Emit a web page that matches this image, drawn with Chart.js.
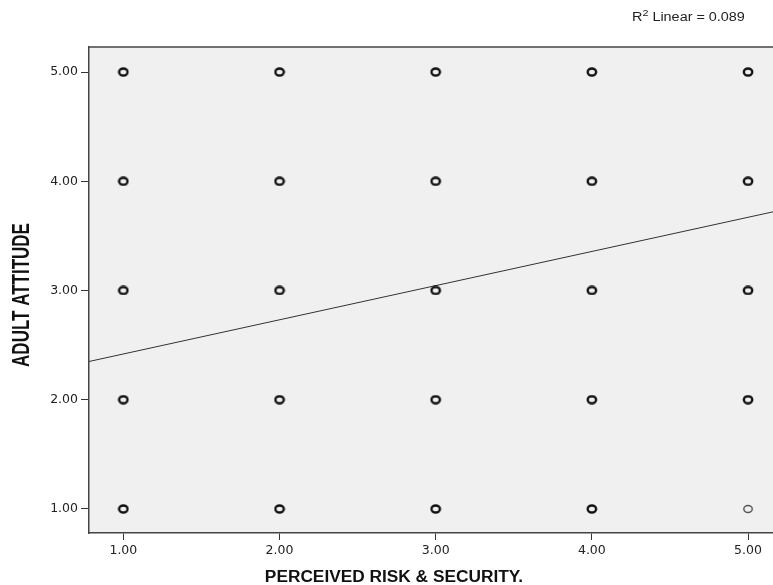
<!DOCTYPE html>
<html lang="en">
<head>
  <meta charset="UTF-8" />
  <title>Adult Attitude vs Perceived Risk</title>
  <script src="https://cdn.jsdelivr.net/npm/chart.js"></script>
  <style>
    body { margin: 0; background: #fff; overflow: hidden; }
    #wrap { width: 773px; height: 585px; }
  </style>
</head>
<body>
  <div id="wrap"><canvas id="scatter"></canvas></div>

  <script>
    // grid of observed answers (1-5 Likert scores on both axes)
    const riskVals = [1, 1, 1, 1, 1, 2, 2, 2, 2, 2, 3, 3, 3, 3, 3, 4, 4, 4, 4, 4, 5, 5, 5, 5];
    const attitudeVals = [1, 2, 3, 4, 5, 1, 2, 3, 4, 5, 1, 2, 3, 4, 5, 1, 2, 3, 4, 5, 2, 3, 4, 5];
    // the single faint point (only one case)
    const singleRisk = [5];
    const singleAttitude = [1];
    // linear fit line, read at the plot edges
    const fitX = [0.78, 5.16];
    const fitY = [2.35, 3.72];
    const tickVals = [1, 2, 3, 4, 5];
    const rSquared = '0.089';
    const xTitle = 'PERCEIVED RISK & SECURITY.';
    const yTitle = 'ADULT ATTITUDE';

    const toPts = (xs, ys) => xs.map((x, i) => ({ x: x, y: ys[i] }));

    // SPSS-like flat "o" marker
    function ring(color, lw) {
      const c = document.createElement('canvas');
      c.width = 12; c.height = 10;
      const g = c.getContext('2d');
      g.strokeStyle = color;
      g.lineWidth = lw;
      g.beginPath();
      g.ellipse(6, 5, 4.2, 3.5, 0, 0, Math.PI * 2);
      g.stroke();
      return c;
    }

    const frame = {
      id: 'frame',
      beforeDraw(chart) {
        const { ctx, chartArea: a } = chart;
        ctx.save();
        ctx.fillStyle = '#f0f0f0';
        ctx.fillRect(a.left, a.top, a.right - a.left, a.bottom - a.top);
        ctx.restore();
      },
      afterDraw(chart) {
        const { ctx, chartArea: a } = chart;
        ctx.save();
        // top frame line
        ctx.strokeStyle = '#444';
        ctx.lineWidth = 1.5;
        ctx.beginPath();
        ctx.moveTo(a.left, a.top);
        ctx.lineTo(a.right, a.top);
        ctx.stroke();

        // R² label
        ctx.fillStyle = '#222';
        ctx.textAlign = 'left';
        ctx.textBaseline = 'alphabetic';
        ctx.save();
        ctx.translate(632, 21);
        ctx.scale(1.2, 1);
        let x = 0;
        ctx.font = '12px "Liberation Sans", Arial, sans-serif';
        ctx.fillText('R', x, 0);
        x += ctx.measureText('R').width;
        ctx.font = '9px "Liberation Sans", Arial, sans-serif';
        ctx.fillText('2', x, -5);
        x += ctx.measureText('2').width;
        ctx.font = '12px "Liberation Sans", Arial, sans-serif';
        ctx.fillText(' Linear = ' + rSquared, x, 0);
        ctx.restore();

        // axis titles
        ctx.fillStyle = '#111';
        ctx.textAlign = 'center';
        ctx.font = 'bold 16px "Liberation Sans", Arial, sans-serif';
        ctx.save();
        ctx.translate(394, 582);
        ctx.scale(1.08, 1);
        ctx.fillText(xTitle, 0, 0);
        ctx.restore();

        ctx.save();
        ctx.translate(29, 295);
        ctx.scale(1.4, 1);
        ctx.rotate(-Math.PI / 2);
        ctx.font = 'bold 17px "Liberation Sans", Arial, sans-serif';
        ctx.fillText(yTitle, 0, 0);
        ctx.restore();
        ctx.restore();
      }
    };

    const tickFont = { family: '"DejaVu Sans", sans-serif', size: 12.5 };

    new Chart(document.getElementById('scatter'), {
      type: 'scatter',
      data: {
        datasets: [
          {
            label: 'Observed',
            data: toPts(riskVals, attitudeVals),
            pointStyle: ring('#111', 2.4),
            pointRadius: 5
          },
          {
            label: 'Single',
            data: toPts(singleRisk, singleAttitude),
            pointStyle: ring('#555', 1.4),
            pointRadius: 5
          },
          {
            type: 'line',
            label: 'Linear fit',
            data: toPts(fitX, fitY),
            borderColor: '#333',
            borderWidth: 1,
            pointRadius: 0,
            fill: false
          }
        ]
      },
      options: {
        responsive: true,
        maintainAspectRatio: false,
        animation: false,
        layout: { autoPadding: false, padding: { top: 47, right: 0, left: 0, bottom: 0 } },
        plugins: { legend: { display: false }, tooltip: { enabled: false } },
        scales: {
          x: {
            type: 'linear',
            min: 0.78,
            max: 5.16,
            afterBuildTicks: s => { s.ticks = tickVals.map(v => ({ value: v })); },
            afterFit: s => { s.height = 52; },
            grid: { drawOnChartArea: false, drawTicks: true, tickLength: 7, color: '#333' },
            border: { color: '#444', width: 1.5 },
            ticks: { color: '#222', font: tickFont, padding: 3, callback: v => Number(v).toFixed(2) },
            title: { display: false }
          },
          y: {
            type: 'linear',
            min: 0.78,
            max: 5.229,
            afterBuildTicks: s => { s.ticks = tickVals.map(v => ({ value: v })); },
            afterFit: s => { s.width = 89; },
            grid: { drawOnChartArea: false, drawTicks: true, tickLength: 8, color: '#333' },
            border: { color: '#444', width: 1.5 },
            ticks: { color: '#222', font: tickFont, padding: 3, callback: v => Number(v).toFixed(2) },
            title: { display: false }
          }
        }
      },
      plugins: [frame]
    });
  </script>
</body>
</html>
